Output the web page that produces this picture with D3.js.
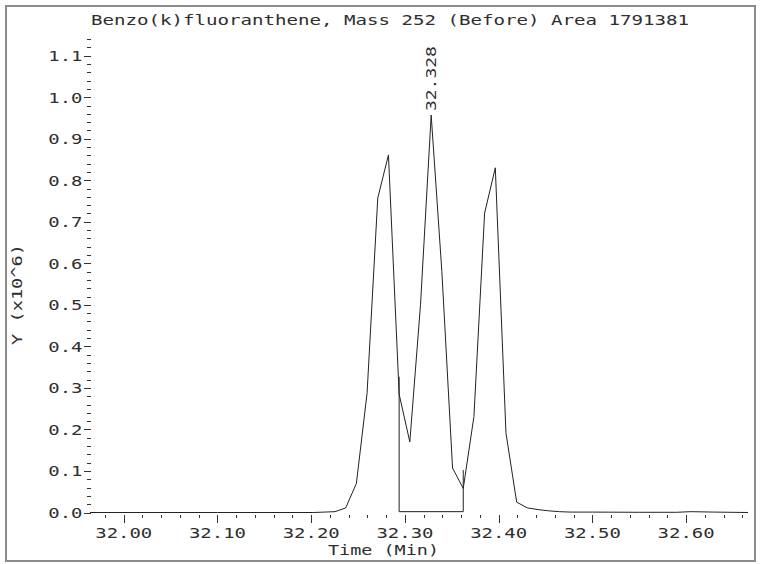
<!DOCTYPE html>
<html><head><meta charset="utf-8">
<script src="https://cdn.jsdelivr.net/npm/d3@7/dist/d3.min.js"></script>
<style>
html,body{margin:0;padding:0;background:#fff;}
svg text{font-family:"DejaVu Sans Mono",monospace;font-size:14px;fill:#2e2e2e;}
</style></head>
<body><svg id="c" width="760" height="564"></svg>
<script>
const title = "Benzo(k)fluoranthene, Mass 252 (Before) Area 1791381";
const xLabel = "Time (Min)";
const yLabel = "Y (x10^6)";
const peakLabel = "32.328";
const peakTime = 32.328;
const peakValue = 0.957;

const times = [31.964, 32.100, 32.2026, 32.214, 32.2254, 32.2368, 32.2482, 32.2596, 32.271, 32.2824,
  32.2938, 32.3052, 32.3166, 32.328, 32.3394, 32.3508, 32.3622, 32.3736, 32.385, 32.3964,
  32.4078, 32.4192, 32.4306, 32.442, 32.4534, 32.4648, 32.4762, 32.50, 32.55, 32.59, 32.605, 32.63, 32.666];
const values = [0, 0, 0, 0.001, 0.002, 0.011, 0.070, 0.287, 0.757, 0.861,
  0.285, 0.170, 0.50, 0.957, 0.58, 0.107, 0.058, 0.231, 0.721, 0.830,
  0.191, 0.025, 0.011, 0.007, 0.004, 0.002, 0.001, 0.001, 0.0005, 0.0005, 0.002, 0.001, 0];

const splitTimes = [32.2938, 32.3622];
const splitTops = [0.327, 0.102];
const integBase = 0.002;

const xMajor = [32.00, 32.10, 32.20, 32.30, 32.40, 32.50, 32.60];
const xMinor = [31.98, 32.02, 32.04, 32.06, 32.08, 32.12, 32.14, 32.16, 32.18, 32.22, 32.24, 32.26, 32.28,
  32.32, 32.34, 32.36, 32.38, 32.42, 32.44, 32.46, 32.48, 32.52, 32.54, 32.56, 32.58, 32.62, 32.64, 32.66];
const yMajor = [0.0, 0.1, 0.2, 0.3, 0.4, 0.5, 0.6, 0.7, 0.8, 0.9, 1.0, 1.1];
const yMinor = [0.02,0.04,0.06,0.08,0.12,0.14,0.16,0.18,0.22,0.24,0.26,0.28,0.32,0.34,0.36,0.38,
  0.42,0.44,0.46,0.48,0.52,0.54,0.56,0.58,0.62,0.64,0.66,0.68,0.72,0.74,0.76,0.78,
  0.82,0.84,0.86,0.88,0.92,0.94,0.96,0.98,1.02,1.04,1.06,1.08,1.12,1.14];

const svg = d3.select("#c");
svg.append("rect").attr("x",6).attr("y",6).attr("width",749).attr("height",555)
  .attr("fill","#fff").attr("stroke","#8c8c8c").attr("stroke-width",2);

const x = d3.scaleLinear().domain([31.964, 32.666]).range([90, 748]);
const y = d3.scaleLinear().domain([0, 1.14]).range([512.5, 39.06]);

const CH = 11.4; // char advance
function stretched(sel, txt){ sel.text(txt).attr("textLength", txt.length*CH).attr("lengthAdjust","spacingAndGlyphs"); return sel; }

// x axis ticks
const gx = svg.append("g").attr("transform","translate(0,514.5)");
gx.call(d3.axisBottom(x).tickValues(xMinor).tickSize(3.5).tickFormat(""));
gx.append("g").call(d3.axisBottom(x).tickValues(xMajor).tickSize(8).tickFormat(""));
gx.selectAll(".domain").remove();
gx.selectAll("line").attr("stroke","#333").attr("shape-rendering","crispEdges");
xMajor.forEach(v=>{
  const t = gx.append("text").attr("x",x(v)).attr("y",23.5).attr("text-anchor","middle");
  stretched(t, d3.format(".2f")(v));
});

// y axis ticks
const gy = svg.append("g").attr("transform","translate(90.5,0)");
gy.call(d3.axisLeft(y).tickValues(yMinor).tickSize(4).tickFormat(""));
gy.append("g").call(d3.axisLeft(y).tickValues(yMajor).tickSize(7).tickFormat(""));
gy.selectAll(".domain").remove();
gy.selectAll("line").attr("stroke","#333").attr("shape-rendering","crispEdges");
yMajor.forEach(v=>{
  const t = gy.append("text").attr("x",-8).attr("y",y(v)+5.5).attr("text-anchor","end");
  stretched(t, d3.format(".1f")(v));
});

// trace
const pts = times.map((t,i)=>[t, values[i]]);
svg.append("path").datum(pts)
  .attr("d", d3.line().x(d=>x(d[0])).y(d=>y(d[1])))
  .attr("fill","none").attr("stroke","#222").attr("stroke-width",1);

// integration baseline & droplines
const integ = [[splitTimes[0], splitTops[0]],[splitTimes[0], integBase],[splitTimes[1], integBase],[splitTimes[1], splitTops[1]]];
svg.append("path").datum(integ)
  .attr("d", d3.line().x(d=>x(d[0])).y(d=>y(d[1])))
  .attr("fill","none").attr("stroke","#222").attr("stroke-width",1);

// title
stretched(svg.append("text").attr("x",91).attr("y",25), title).attr("textLength", 598);

// x label
stretched(svg.append("text").attr("x",328).attr("y",555), xLabel).attr("textLength", 111);

// y label
stretched(svg.append("text").attr("transform","translate(21.5,345) rotate(-90)"), yLabel).attr("textLength", 101);

// peak label
stretched(svg.append("text")
  .attr("transform",`translate(${x(peakTime)+4.5},${y(peakValue)-4}) rotate(-90)`), peakLabel).attr("textLength", 65);
</script></body></html>
